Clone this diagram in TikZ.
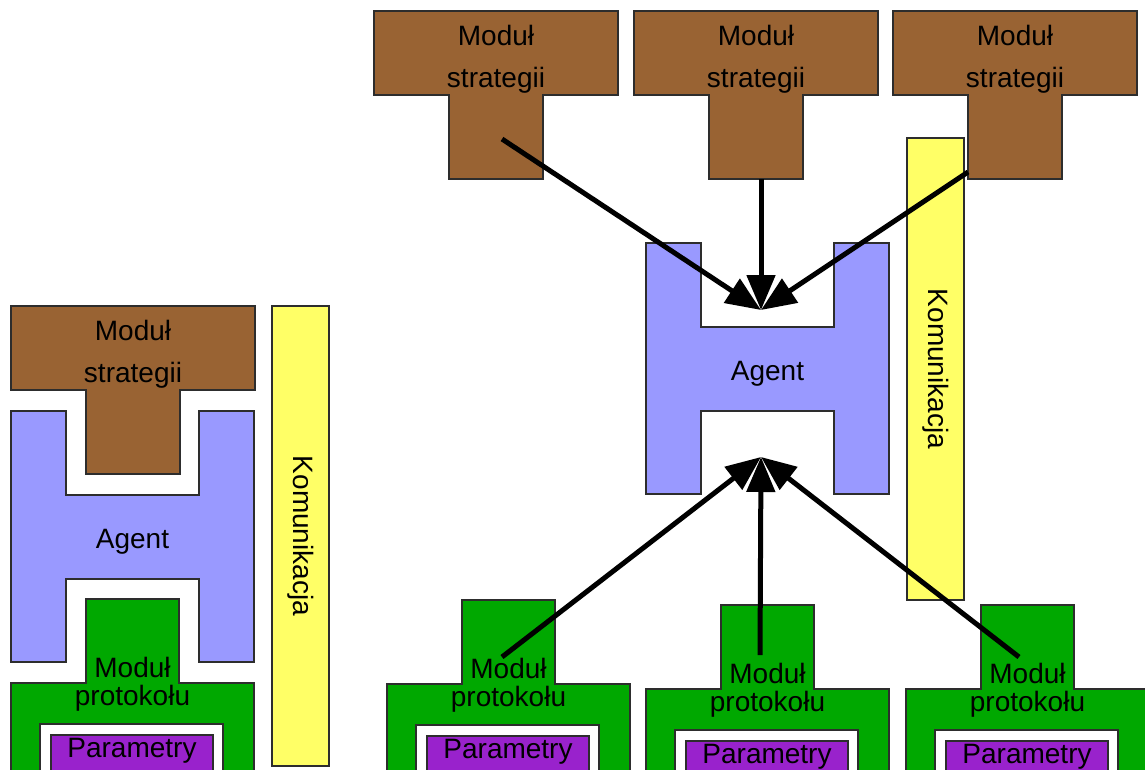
\documentclass[tikz,border=0pt]{standalone}
\usepackage{fontspec}
\setmainfont{Liberation Sans}
\usetikzlibrary{arrows.meta}

\definecolor{stratbrown}{RGB}{153,99,51}
\definecolor{agentblue}{RGB}{153,153,255}
\definecolor{protogreen}{RGB}{0,168,0}
\definecolor{parampurple}{RGB}{153,34,204}
\definecolor{commyellow}{RGB}{255,255,102}
\definecolor{edgegray}{RGB}{45,45,45}

\tikzset{
  outl/.style={draw=edgegray, line width=1.1pt, line join=miter},
  lbl/.style={font=\fontsize{28}{34}\selectfont, inner sep=0pt, text=black},
  commbar/.style={outl, fill=commyellow, rotate=-90, minimum width=460pt,
    minimum height=57pt, inner sep=0pt, font=\fontsize{28}{34}\selectfont},
  flow/.style={line width=5pt, -{Triangle[length=35pt, width=28pt]}},
}

% T-shaped strategy module: #1,#2 = top-left corner, #3 = name
\newcommand\stratblock[3]{%
  \begin{scope}[shift={(#1,#2)}]
    \draw[outl, fill=stratbrown] (0,0) -- (244,0) -- (244,84) -- (169,84)
      -- (169,168) -- (75,168) -- (75,84) -- (0,84) -- cycle;
    \node[lbl, anchor=base] (#3-a) at (122,34) {Moduł};
    \node[lbl, anchor=base] (#3-b) at (122,76) {strategii};
  \end{scope}}

% H-shaped agent: #1,#2 = top-left corner, #3 = name
\newcommand\agentblock[3]{%
  \begin{scope}[shift={(#1,#2)}]
    \draw[outl, fill=agentblue] (0,0) -- (55,0) -- (55,84) -- (188,84)
      -- (188,0) -- (243,0) -- (243,251) -- (188,251) -- (188,168)
      -- (55,168) -- (55,251) -- (0,251) -- cycle;
    \node[lbl, anchor=base] (#3) at (121.5,137) {Agent};
  \end{scope}}

% protocol module with its parameter block: #1,#2 = left end / top of the wide bar, #3 = name
\newcommand\protoblock[3]{%
  \begin{scope}[shift={(#1,#2)}]
    \draw[outl, fill=protogreen] (75,-84) -- (168,-84) -- (168,0) -- (243,0)
      -- (243,130) -- (212,130) -- (212,41) -- (29,41) -- (29,130)
      -- (0,130) -- (0,0) -- (75,0) -- cycle;
    \draw[outl, fill=parampurple] (40,52) rectangle (202,130);
    \node[lbl, anchor=base] (#3-a) at (121.5,-6) {Moduł};
    \node[lbl, anchor=base] (#3-b) at (121.5,22) {protokołu};
    \node[lbl, anchor=base] (#3-p) at (121,74) {Parametry};
  \end{scope}}

\begin{document}
\begin{tikzpicture}[x=1pt, y=-1pt]
  \useasboundingbox (0,0) rectangle (1145,769);
  \fill[white] (0,0) rectangle (1145,769);
  \clip (0,0) rectangle (1145,769);

  % stacked view on the left
  \stratblock{11}{306}{ls}
  \agentblock{11}{411}{lagent}
  \protoblock{11}{683}{lp}
  \node[commbar] (lcomm) at (300.5,536) {Komunikacja};

  % exploded view on the right
  \node[commbar, minimum width=462pt] (rcomm) at (935.5,369) {Komunikacja};
  \stratblock{374}{11}{s1}
  \stratblock{634}{11}{s2}
  \stratblock{893}{11}{s3}
  \agentblock{646}{243}{ragent}
  \protoblock{387}{684}{p1}
  \protoblock{646}{689}{p2}
  \protoblock{906}{689}{p3}

  % arrow ends
  \coordinate (toptip) at (761,310);
  \coordinate (bottip) at (761,457);
  \coordinate (s1o) at (502,139);
  \coordinate (s2o) at (761,179);
  \coordinate (s3o) at (968,172);
  \coordinate (p1o) at (502,657);
  \coordinate (p2o) at (760,655);
  \coordinate (p3o) at (1019,657);

  \draw[flow] (s1o) -- (toptip);
  \draw[flow] (s2o) -- (toptip);
  \draw[flow] (s3o) -- (toptip);
  \draw[flow] (p1o) -- (bottip);
  \draw[flow] (p2o) -- (bottip);
  \draw[flow] (p3o) -- (bottip);
\end{tikzpicture}
\end{document}
